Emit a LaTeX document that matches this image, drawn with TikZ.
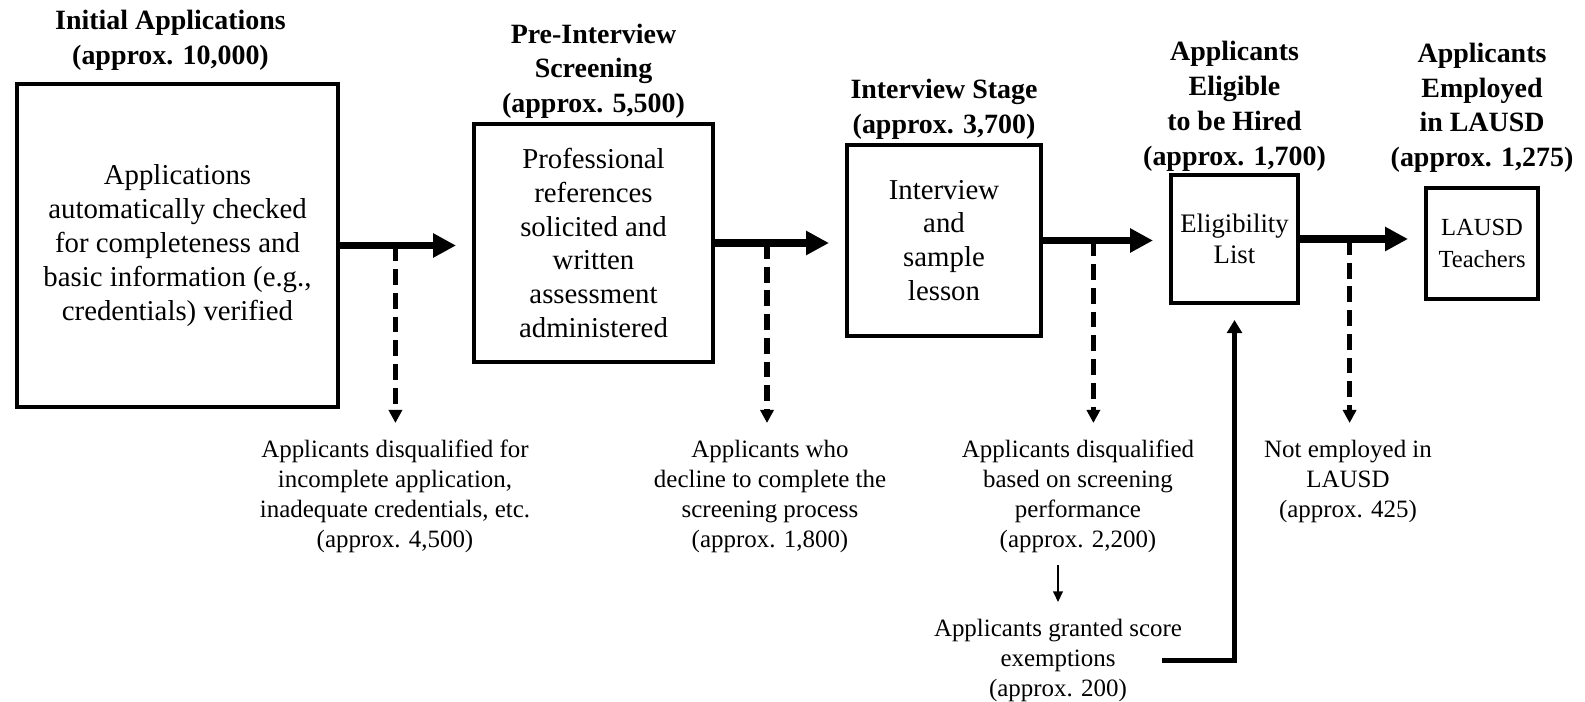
\documentclass[tikz,border=0pt]{standalone}
\usepackage{fontspec}
\setmainfont{Liberation Serif}
\usetikzlibrary{positioning,arrows.meta}

\tikzset{
  stage/.style={draw,line width=2.3pt,align=center,inner sep=0pt},
  body/.style={font=\fontsize{16.4}{19.3}\selectfont},
  head/.style={align=center,inner sep=0pt,font=\bfseries\fontsize{15.9}{19.8}\selectfont},
  note/.style={align=center,inner sep=0pt,anchor=north,font=\fontsize{14.2}{17}\selectfont},
  flow/.style={line width=4.2pt,shorten >=0.32cm,-{Triangle[length=13pt,width=13pt]}},
  drop/.style={line width=3pt,dash pattern=on 9pt off 4.5pt,shorten >=0.34cm,-{Triangle[length=7.5pt,width=7.5pt]}},
  back/.style={line width=2.5pt,-{Triangle[length=7.5pt,width=8.5pt]}},
}

\begin{document}
\begin{tikzpicture}[x=0.02cm,y=-0.02cm]
\useasboundingbox (0,0) rectangle (1585,702);

% stages
\node[stage,body,minimum width=6.42cm,minimum height=6.46cm] (b1) at (177.5,245.5)
  {Applications\\automatically checked\\for completeness and\\basic information (e.g.,\\credentials) verified};
\node[stage,body,minimum width=4.78cm,minimum height=4.76cm] (b2) at (593.5,243)
  {Professional\\references\\solicited and\\written\\assessment\\administered};
\node[stage,body,minimum width=3.88cm,minimum height=3.82cm] (b3) at (944,240.5)
  {Interview\\and\\sample\\lesson};
\node[stage,font=\fontsize{15.2}{17.3}\selectfont,minimum width=2.54cm,minimum height=2.56cm] (b4) at (1234.5,239)
  {Eligibility\\List};
\node[stage,font=\fontsize{14}{18}\selectfont,minimum width=2.24cm,minimum height=2.22cm] (b5) at (1482,243.5)
  {LAUSD\\Teachers};

% headings
\node[head,above=0.22cm of b1,xshift=-0.14cm] (h1) {Initial Applications\\(approx. 10,000)};
\node[head,above=0.06cm of b2] (h2) {Pre-Interview\\Screening\\(approx. 5,500)};
\node[head,above=0.06cm of b3] (h3) {Interview Stage\\(approx. 3,700)};
\node[head,above=0.03cm of b4] (h4) {Applicants\\Eligible\\to be Hired\\(approx. 1,700)};
\node[head,above=0.26cm of b5] (h5) {Applicants\\Employed\\in LAUSD\\(approx. 1,275)};

% split points
\path (b1.east) -- (b1.east -| b2.west) coordinate[pos=0.42] (s1);
\path (b2.east) -- (b2.east -| b3.west) coordinate[pos=0.40] (s2);
\path (b3.east) -- (b3.east -| b4.west) coordinate[pos=0.40] (s3);
\path (b4.east) -- (b4.east -| b5.west) coordinate[pos=0.40] (s4);

% leavers
\node[note] (n1) at (395,440) {Applicants disqualified for\\incomplete application,\\inadequate credentials, etc.\\(approx. 4,500)};
\node[note] (n2) at (770,440) {Applicants who\\decline to complete the\\screening process\\(approx. 1,800)};
\node[note] (n3) at (1078,440) {Applicants disqualified\\based on screening\\performance\\(approx. 2,200)};
\node[note] (n4) at (1058,619) {Applicants granted score\\exemptions\\(approx. 200)};
\node[note] (n5) at (1348,440) {Not employed in\\LAUSD\\(approx. 425)};

\draw[drop] (s1) -- (s1 |- n1.north);
\draw[drop] (s2) -- (s2 |- n2.north);
\draw[drop] (s3) -- (s3 |- n3.north);
\draw[drop] (s4) -- (s4 |- n5.north);

\draw[flow] (b1.east) -- (b1.east -| b2.west);
\draw[flow] (b2.east) -- (b2.east -| b3.west);
\draw[flow] (b3.east) -- (b3.east -| b4.west);
\draw[flow] (b4.east) -- (b4.east -| b5.west);

\draw[line width=0.8pt,shorten <=0.24cm,shorten >=0.34cm,-{Triangle[length=6pt,width=5.5pt]}] (n3.south -| n4.north) -- (n4.north);
\draw[back,shorten >=0.3cm] ([xshift=-0.4cm]n4.east) -| (b4.south);
\end{tikzpicture}
\end{document}
